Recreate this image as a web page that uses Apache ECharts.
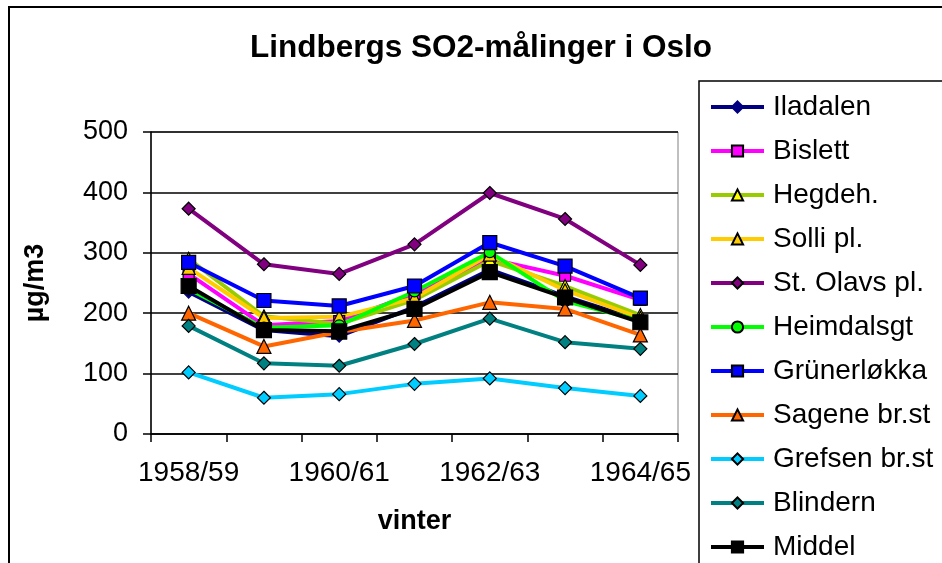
<!DOCTYPE html>
<html>
<head>
<meta charset="utf-8">
<title>Lindbergs SO2-målinger i Oslo</title>
<script src="https://cdn.jsdelivr.net/npm/echarts@6/dist/echarts.min.js"></script>
<style>
  html, body { margin: 0; padding: 0; background: #fff; }
  #chart { width: 942px; height: 563px; }
</style>
</head>
<body>
<div id="chart"></div>
<script>
// vintre
var winters = ['1958/59', '1959/60', '1960/61', '1961/62', '1962/63', '1963/64', '1964/65'];

// SO2 (µg/m3) per målestasjon, lest av figuren
var iladalen    = [235, 172, 162, 210, 272, 228, 188];
var bislett     = [265, 180, 187, 232, 290, 262, 222];
var hegdeh      = [290, 195, 182, 222, 287, 245, 197];
var solli       = [275, 192, 194, 225, 297, 238, 192];
var stOlavs     = [373, 281, 265, 314, 399, 356, 280];
var heimdalsgt  = [240, 176, 180, 236, 301, 220, 188];
var grunerlokka = [284, 221, 212, 245, 317, 278, 225];
var sagene      = [200, 145, 169, 188, 218, 207, 164];
var grefsen     = [102, 60, 66, 83, 92, 76, 63];
var blindern    = [179, 117, 113, 149, 191, 152, 141];
var middel      = [245, 172, 170, 207, 268, 226, 185];

var yTicks = [0, 100, 200, 300, 400, 500];

var FONT = 'Liberation Sans, Arial, sans-serif';

function lag(navn, data, farge, symbol, fyll, str, kant) {
    return {
        name: navn,
        type: 'line',
        data: data,
        symbol: symbol,
        symbolSize: str,
        showAllSymbol: true,
        lineStyle: { color: farge, width: 4 },
        itemStyle: { color: fyll, borderColor: kant || '#000', borderWidth: 1.2 },
        emphasis: { disabled: true },
        animation: false
    };
}

var chart = echarts.init(document.getElementById('chart'));
var option = {
    backgroundColor: '#fff',
    animation: false,
    title: {
        text: 'Lindbergs SO2-målinger i Oslo',
        left: 481,
        textAlign: 'center',
        top: 32,
        padding: 0,
        textStyle: { fontFamily: FONT, fontSize: 31.5, fontWeight: 'bold', color: '#000' }
    },
    graphic: [
        { type: 'rect', shape: { x: 9, y: 7, width: 1000, height: 1000 },
          style: { fill: 'none', stroke: '#000', lineWidth: 2 }, silent: true },
        { type: 'rect', shape: { x: 699, y: 81, width: 400, height: 600 },
          style: { fill: '#fff', stroke: '#000', lineWidth: 1.5 }, silent: true, z: 1 }
    ],
    legend: {
        orient: 'vertical',
        left: 709,
        top: 93,
        height: 700,
        padding: 0,
        itemWidth: 53,
        itemHeight: 14,
        itemGap: 16,
        selectedMode: false,
        z: 5,
        lineStyle: { width: 4 },
        textStyle: { fontFamily: FONT, fontSize: 28, lineHeight: 28, color: '#000', padding: [0, 0, 0, 4] }
    },
    grid: {
        left: 151, top: 132, width: 527, height: 302,
        show: true, borderColor: '#808080', borderWidth: 1
    },
    xAxis: {
        type: 'category',
        data: winters,
        boundaryGap: true,
        name: 'vinter',
        nameLocation: 'middle',
        nameGap: 74,
        nameTextStyle: { fontFamily: FONT, fontSize: 27, fontWeight: 'bold', color: '#000' },
        axisLine: { lineStyle: { color: '#000', width: 1.5 } },
        axisTick: { show: true, interval: 0, length: 8, lineStyle: { color: '#000', width: 1.5 } },
        axisLabel: { interval: 1, margin: 25, fontFamily: FONT, fontSize: 28, color: '#000' },
        splitLine: { show: false }
    },
    yAxis: {
        type: 'value',
        min: yTicks[0],
        max: yTicks[yTicks.length - 1],
        interval: 100,
        name: 'µg/m3',
        nameLocation: 'middle',
        nameRotate: 90,
        nameGap: 102,
        nameTextStyle: { fontFamily: FONT, fontSize: 27, fontWeight: 'bold', color: '#000' },
        axisLine: { show: true, lineStyle: { color: '#000', width: 1.5 } },
        axisTick: { show: true, length: 8, lineStyle: { color: '#000', width: 1.5 } },
        axisLabel: { margin: 23, fontFamily: FONT, fontSize: 27, color: '#000' },
        splitLine: { show: true, lineStyle: { color: '#000', width: 1.5 } }
    },
    series: [
        lag('Iladalen', iladalen, '#000080', 'diamond', '#000080', 12, '#000080'),
        lag('Bislett', bislett, '#ff00ff', 'rect', '#ff00ff', 11),
        lag('Hegdeh.', hegdeh, '#99cc00', 'triangle', '#ffff00', 13),
        lag('Solli pl.', solli, '#ffcc00', 'triangle', '#ffcc00', 13),
        lag('St. Olavs pl.', stOlavs, '#800080', 'diamond', '#800080', 13),
        lag('Heimdalsgt', heimdalsgt, '#00ff00', 'circle', '#00ff00', 11),
        lag('Grünerløkka', grunerlokka, '#0000ff', 'rect', '#0000ff', 14),
        lag('Sagene br.st', sagene, '#ff6600', 'triangle', '#ff6600', 14),
        lag('Grefsen br.st', grefsen, '#00ccff', 'diamond', '#00ccff', 13),
        lag('Blindern', blindern, '#008080', 'diamond', '#008080', 13),
        lag('Middel', middel, '#000000', 'rect', '#000000', 15)
    ]
};
chart.setOption(option);
</script>
</body>
</html>
